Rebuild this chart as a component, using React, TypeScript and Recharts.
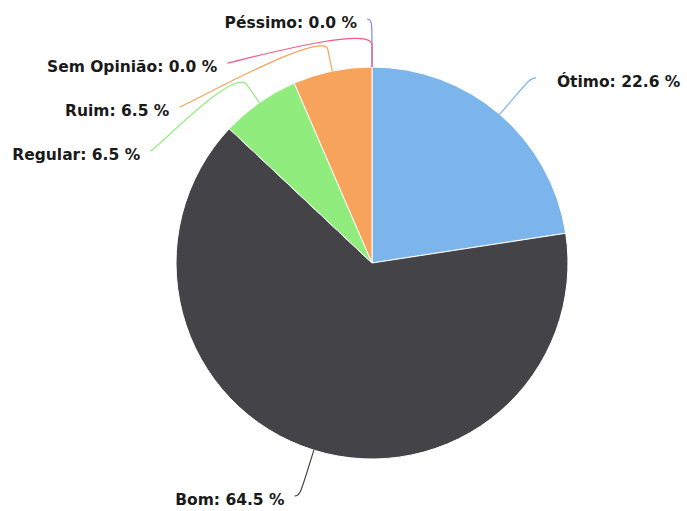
import { Cell, Pie, PieChart } from "recharts";

const categories = ["Ótimo", "Bom", "Regular", "Ruim", "Péssimo", "Sem Opinião"];
const percents = [22.6, 64.5, 6.5, 6.5, 0.0, 0.0];
const colors = ["#7cb5ec", "#434348", "#90ed7d", "#f7a35c", "#8085e9", "#f15c80"];

const data = categories.map((name, i) => ({ name, value: percents[i] }));

const RADIAN = Math.PI / 180;
const LABEL_DISTANCE = 48;
const BREAK_OFFSET = 22;
const LABEL_SPACING = 44;
const CONNECTOR_PAD = 5;

// natural label angles, same sweep as the Pie (90 -> -270, clockwise)
function midAngles() {
  const total = percents.reduce((a, b) => a + b, 0);
  let start = 90;
  return percents.map((v) => {
    const sweep = (v / total) * 360;
    const mid = start - sweep / 2;
    start -= sweep;
    return mid;
  });
}

// Highcharts-like distribution of labels on each side
function layoutLabels(cx: number, cy: number, r: number) {
  const R = r + LABEL_DISTANCE;
  const mids = midAngles();
  const items = mids.map((a, i) => {
    const cos = Math.cos(a * RADIAN);
    const left = cos < -1e-6 || (Math.abs(cos) <= 1e-6 && percents[i] === 0);
    return { i, left, y: cy - R * Math.sin(a * RADIAN) };
  });
  const out: { x: number; y: number; left: boolean }[] = [];
  [true, false].forEach((side) => {
    const group = items.filter((it) => it.left === side).sort((a, b) => a.y - b.y || a.i - b.i);
    let prev = -Infinity;
    group.forEach((it) => {
      let y = Math.max(it.y, cy - R, prev + LABEL_SPACING);
      prev = y;
      const dy = y - cy;
      const dx = Math.sqrt(Math.max(0, R * R - dy * dy));
      out[it.i] = {
        x: cx + (side ? -1 : 1) * (dx + CONNECTOR_PAD),
        y,
        left: side,
      };
    });
  });
  return out;
}

function renderLabel(props: any) {
  const { cx, cy, midAngle, outerRadius, index, name, value } = props;
  const pos = layoutLabels(cx, cy, outerRadius)[index];
  const cos = Math.cos(-midAngle * RADIAN);
  const sin = Math.sin(-midAngle * RADIAN);
  const tx = cx + outerRadius * cos;
  const ty = cy + outerRadius * sin;
  const bx = cx + (outerRadius + BREAK_OFFSET) * cos;
  const by = cy + (outerRadius + BREAK_OFFSET) * sin;
  const c1x = pos.x + (pos.left ? 5 : -5);
  const path = `M${pos.x},${pos.y} C${c1x},${pos.y} ${2 * bx - tx},${2 * by - ty} ${bx},${by} L${tx},${ty}`;
  return (
    <g key={`lbl-${index}`}>
      <path d={path} fill="none" stroke={colors[index]} strokeWidth={1.2} />
      <text
        x={pos.left ? pos.x - 10 : pos.x + 21}
        y={pos.y + 4}
        textAnchor={pos.left ? "end" : "start"}
        dominantBaseline="central"
        fill="#1a1a1a"
        fontSize={15.5}
        fontWeight="bold"
        fontFamily="DejaVu Sans, sans-serif"
      >
        {`${name}: ${value.toFixed(1)} %`}
      </text>
    </g>
  );
}

export default function App() {
  return (
    <div style={{ position: "absolute", left: 0, top: 0, width: 687, height: 511, background: "#fff" }}>
      <PieChart width={687} height={511} margin={{ top: 0, right: 0, bottom: 0, left: 0 }}>
        <Pie
          data={data}
          dataKey="value"
          nameKey="name"
          cx={372}
          cy={263}
          outerRadius={196}
          startAngle={90}
          endAngle={-270}
          stroke="#fff"
          strokeWidth={1}
          label={renderLabel}
          labelLine={false}
          isAnimationActive={false}
        >
          {data.map((d, i) => (
            <Cell key={d.name} fill={colors[i]} />
          ))}
        </Pie>
      </PieChart>
    </div>
  );
}
